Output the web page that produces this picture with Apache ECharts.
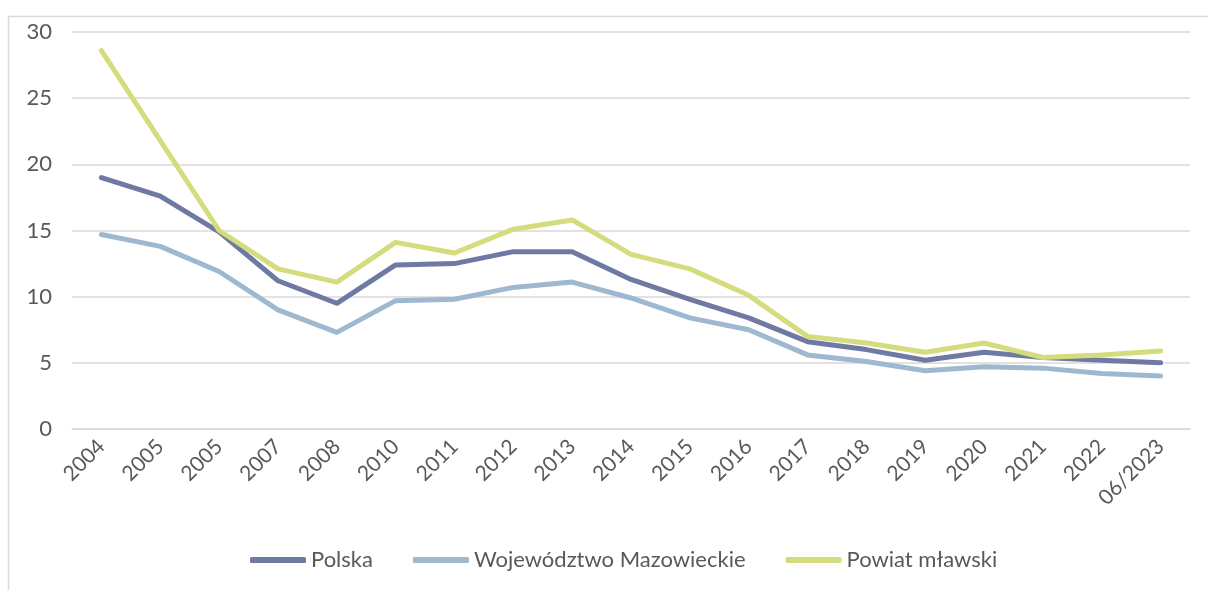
<!DOCTYPE html>
<html>
<head>
<meta charset="utf-8">
<script src="https://cdn.jsdelivr.net/npm/echarts@6/dist/echarts.min.js"></script>
<style>
  html, body { margin: 0; padding: 0; background: #fff; }
  #box { width: 1208px; height: 590px; }
</style>
</head>
<body>
<div id="box"></div>
<script>
// dane
var lata = ['2004', '2005', '2005', '2007', '2008', '2010', '2011', '2012', '2013', '2014',
            '2015', '2016', '2017', '2018', '2019', '2020', '2021', '2022', '06/2023'];
var polska = [19.0, 17.6, 14.9, 11.2, 9.5, 12.4, 12.5, 13.4, 13.4, 11.3,
              9.8, 8.4, 6.6, 6.0, 5.2, 5.8, 5.4, 5.2, 5.0];
var mazowieckie = [14.7, 13.8, 11.9, 9.0, 7.3, 9.7, 9.8, 10.7, 11.1, 9.9,
                   8.4, 7.5, 5.6, 5.1, 4.4, 4.7, 4.6, 4.2, 4.0];
var mlawski = [28.6, 21.8, 15.0, 12.1, 11.1, 14.1, 13.3, 15.1, 15.8, 13.2,
               12.1, 10.1, 7.0, 6.5, 5.8, 6.5, 5.4, 5.6, 5.9];
var nazwy = ['Polska', 'Województwo Mazowieckie', 'Powiat mławski'];
var kolory = ['#6e7aa3', '#9db8cf', '#d4dc7d'];

var myChart = echarts.init(document.getElementById('box'));

var font = 'Lato, "Open Sans", sans-serif';
var textColor = '#595959';

function seria(name, data, color) {
    return {
        name: name,
        type: 'line',
        data: data,
        symbol: 'none',
        color: color,
        lineStyle: { width: 5, color: color, cap: 'round', join: 'round' }
    };
}

var option = {
    backgroundColor: '#fff',
    animation: false,
    // ramka (widoczna tylko u góry i z lewej)
    graphic: [{
        type: 'rect',
        shape: { x: 8.5, y: 16.5, width: 1400, height: 800 },
        style: { fill: 'none', stroke: '#d9d9d9', lineWidth: 1.5 },
        silent: true
    }],
    grid: {
        left: 72,
        right: 18,
        top: 32,
        bottom: 161
    },
    legend: {
        data: nazwy,
        bottom: 14,
        left: 245,
        icon: 'roundRect',
        itemWidth: 56,
        itemHeight: 6,
        itemGap: 40,
        textStyle: { fontFamily: font, fontSize: 22, color: textColor, padding: [0, 0, 0, 0] }
    },
    xAxis: {
        type: 'category',
        data: lata,
        boundaryGap: true,
        axisLine: { show: true, lineStyle: { color: '#d9d9d9', width: 1.5 } },
        axisTick: { show: false },
        axisLabel: {
            rotate: 45,
            interval: 0,
            margin: 14,
            fontFamily: font,
            fontSize: 21,
            color: textColor
        }
    },
    yAxis: {
        type: 'value',
        min: 0,
        max: 30,
        interval: 5,
        axisLine: { show: false },
        axisTick: { show: false },
        splitLine: { lineStyle: { color: '#d9d9d9', width: 1.5 } },
        axisLabel: {
            margin: 20,
            fontFamily: font,
            fontSize: 22,
            color: textColor
        }
    },
    series: [
        seria(nazwy[0], polska, kolory[0]),
        seria(nazwy[1], mazowieckie, kolory[1]),
        seria(nazwy[2], mlawski, kolory[2])
    ]
};

myChart.setOption(option);
</script>
</body>
</html>
